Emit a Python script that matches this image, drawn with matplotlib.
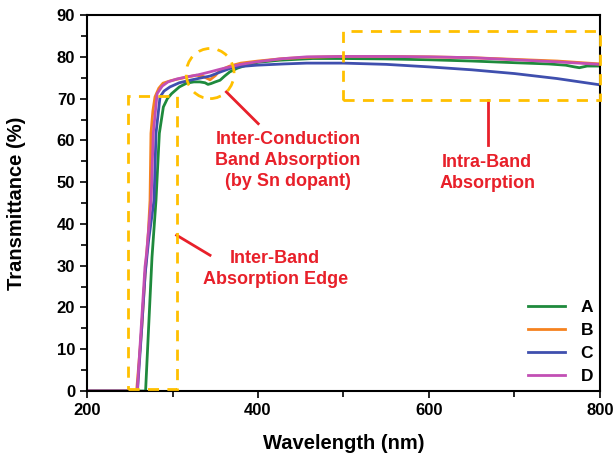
import matplotlib
matplotlib.use("Agg")
import matplotlib.pyplot as plt
from matplotlib.patches import Rectangle, Ellipse
from matplotlib.ticker import MultipleLocator

plt.rcParams['font.family'] = ['Liberation Sans', 'DejaVu Sans']
plt.rcParams['font.weight'] = 'bold'

# ---- data ----
wl_A = [200, 268.5, 272, 276, 280.7, 284.6, 289.3, 294, 299, 308, 316.5, 325, 332, 338, 341.5,
        345, 350, 355.6, 361, 367, 376, 386.6, 400, 425.7, 464, 500, 550, 600, 650, 700, 740,
        760, 770, 776, 785, 800]
T_A = [0, 0, 15, 32, 45.7, 61.7, 68, 70, 71.2, 72.8, 73.7, 74.0, 74.0, 73.8, 73.4,
       73.6, 74.0, 74.4, 75.4, 76.4, 77.3, 78.0, 78.7, 79.2, 79.6, 79.6, 79.5, 79.3, 79.0, 78.6, 78.3,
       78.0, 77.6, 77.4, 77.8, 77.8]

wl_B = [200, 258, 264, 268, 271.7, 273.7, 274.8, 277, 279.5, 284, 288.9, 298, 308.8, 318, 328,
        336, 343.9, 350, 355.6, 367, 380, 400, 430, 460, 500, 550, 600, 650, 700, 750, 800]
T_B = [0, 0, 15, 28, 38, 45.7, 61.7, 67, 70.4, 72.5, 73.7, 74.3, 74.8, 75.2, 75.6,
       75.3, 74.5, 75.5, 76.8, 77.8, 78.5, 79.0, 79.6, 79.9, 80.1, 80.1, 80.0, 79.8, 79.4, 79.0, 78.3]

wl_C = [200, 259, 263, 268, 272, 278.4, 280.7, 285.4, 290, 297, 308, 320.5, 332, 343.9, 355,
        367, 380, 398.5, 430, 456.8, 500, 550, 600, 650, 700, 750, 800]
T_C = [0, 0, 12, 28, 36, 45.7, 61.7, 70.4, 71.8, 72.8, 73.8, 74.4, 74.9, 75.4, 76.3,
       77.2, 77.7, 78.0, 78.3, 78.5, 78.5, 78.2, 77.6, 76.9, 76.0, 74.8, 73.3]

wl_D = [200, 258.8, 263, 267.8, 269.7, 275, 277.5, 282, 288, 294.7, 305, 316.5, 330, 343.9,
        355, 367, 380, 398.5, 425, 456.8, 500, 550, 600, 650, 700, 750, 800]
T_D = [0, 0, 14, 29.7, 33, 45.7, 61.7, 71.2, 73, 74, 74.7, 75.2, 75.7, 76.4,
       77.0, 77.6, 78.2, 78.8, 79.5, 80.0, 80.1, 80.1, 80.0, 79.8, 79.3, 78.8, 78.2]

labels = ['A', 'B', 'C', 'D']
colors = ['#1e8a3c', '#f5821f', '#3f4fae', '#c24fb4']

x_ticks = [200, 400, 600, 800]
y_ticks = [0, 10, 20, 30, 40, 50, 60, 70, 80, 90]

fig = plt.figure(figsize=(6.15, 4.57), dpi=100)
ax = fig.add_axes([0.1415, 0.1444, 0.834, 0.8226])

for wl, T, lab, c in zip([wl_A, wl_B, wl_C, wl_D], [T_A, T_B, T_C, T_D], labels, colors):
    ax.plot(wl, T, color=c, lw=2, label=lab)

ax.set_xlim(200, 800)
ax.set_ylim(0, 90)
ax.set_xticks(x_ticks)
ax.set_yticks(y_ticks)
ax.xaxis.set_minor_locator(MultipleLocator(100))
ax.yaxis.set_minor_locator(MultipleLocator(5))
ax.tick_params(which='both', direction='out', width=1.2, labelsize=12)
ax.tick_params(which='major', length=5)
ax.tick_params(which='minor', length=4)
for s in ax.spines.values():
    s.set_linewidth(1.5)
for lab in ax.get_xticklabels() + ax.get_yticklabels():
    lab.set_fontweight('bold')

ax.set_xlabel('Wavelength (nm)', fontsize=14.5, fontweight='bold', labelpad=12)
ax.set_ylabel('Transmittance (%)', fontsize=14.5, fontweight='bold', labelpad=22)

yellow = '#ffc000'
red = '#e8202a'
# dashed boxes / circle
ax.add_patch(Rectangle((248.3, 0.5), 56.5, 70.1, fill=False, ec=yellow, lw=2,
                       ls=(0, (4, 3)), clip_on=False, zorder=5))
ax.add_patch(Rectangle((499.8, 69.6), 300.2, 16.5, fill=False, ec=yellow, lw=2,
                       ls=(0, (4, 3)), clip_on=False, zorder=5))
ax.add_patch(Ellipse((344, 76), 56, 12, fill=False, ec=yellow, lw=2,
                     ls=(0, (4, 3)), zorder=5))

# red pointer lines
ax.plot([363, 400.3], [71.6, 64], color=red, lw=2)
ax.plot([304.8, 343.9], [37.3, 32.5], color=red, lw=2)
ax.plot([668.6, 668.6], [69.6, 58.9], color=red, lw=2)

ax.text(435, 55.2, 'Inter-Conduction\nBand Absorption\n(by Sn dopant)', color=red,
        fontsize=13, fontweight='bold', ha='center', va='center', linespacing=1.3)
ax.text(420, 29.2, 'Inter-Band\nAbsorption Edge', color=red, fontsize=13,
        fontweight='bold', ha='center', va='center', linespacing=1.3)
ax.text(668, 52.3, 'Intra-Band\nAbsorption', color=red, fontsize=13,
        fontweight='bold', ha='center', va='center', linespacing=1.3)

leg = ax.legend(loc='lower right', frameon=False, fontsize=12.5, handlelength=2.1,
                labelspacing=0.45, borderaxespad=0.0, handletextpad=0.9)
for t in leg.get_texts():
    t.set_fontweight('bold')

fig.savefig('out.png', dpi=100)
